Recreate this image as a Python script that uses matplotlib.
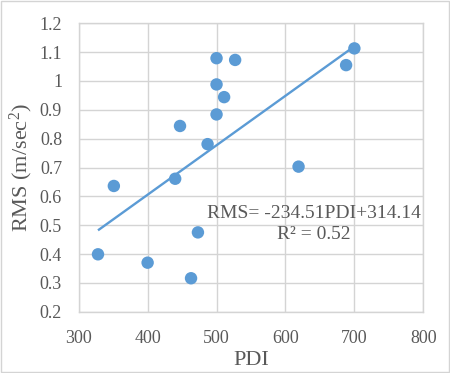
import matplotlib
matplotlib.use("Agg")
import matplotlib.pyplot as plt
import numpy as np

pdi = [328, 351, 400, 440, 447, 463, 473, 487, 500, 500, 500, 511, 527, 619, 688, 700]
rms = [0.399, 0.636, 0.370, 0.661, 0.844, 0.316, 0.475, 0.781, 0.884, 0.988, 1.079, 0.944, 1.073, 0.703, 1.055, 1.113]
xticks = [300, 400, 500, 600, 700, 800]
yticks = [0.2, 0.3, 0.4, 0.5, 0.6, 0.7, 0.8, 0.9, 1.0, 1.1, 1.2]
ytick_labels = ["0.2", "0.3", "0.4", "0.5", "0.6", "0.7", "0.8", "0.9", "1", "1.1", "1.2"]
eq_text = "RMS= -234.51PDI+314.14"
r2_text = "R² = 0.52"

plt.rcParams['font.family'] = ['Liberation Serif', 'DejaVu Serif']
plt.rcParams['mathtext.fontset'] = 'custom'
plt.rcParams['mathtext.rm'] = 'Liberation Serif'
plt.rcParams['mathtext.it'] = 'Liberation Serif:italic'
plt.rcParams['mathtext.bf'] = 'Liberation Serif:bold'
grey = "#595959"
blue = "#5B9BD5"
gridc = "#D4D4D4"

fig = plt.figure(figsize=(4.5, 3.73), dpi=100)
fig.patch.set_facecolor("white")
ax = fig.add_axes([78.7/450, 1 - 311.7/373, (423.3-78.7)/450, (311.7-23.3)/373])

x = np.array(pdi, dtype=float)
y = np.array(rms, dtype=float)
slope, intercept = np.polyfit(x, y, 1)
xl = np.array([x.min(), x.max()])
ax.plot(xl, slope * xl + intercept, color=blue, lw=1.7, zorder=2, solid_capstyle='butt')
ax.scatter(x, y, s=80, color=blue, zorder=3, edgecolors='none')

ax.set_xlim(300, 800)
ax.set_ylim(0.2, 1.2)
ax.set_xticks(xticks)
ax.set_yticks(yticks)
ax.set_yticklabels(ytick_labels)
ax.grid(True, color=gridc, lw=1.0, zorder=0)
ax.set_axisbelow(True)
for s in ax.spines.values():
    s.set_color(gridc)
    s.set_linewidth(1.0)
ax.tick_params(length=0, labelsize=13, labelcolor=grey)
ax.tick_params(axis='y', pad=12)
ax.tick_params(axis='x', pad=13)
ax.set_xlabel("PDI", fontsize=16, color=grey, labelpad=3)
ax.set_ylabel("RMS (m/sec$^{2}$)", fontsize=16, color=grey, labelpad=3)

ax.text(641, 0.542, eq_text, fontsize=14, color=grey, ha='center', va='center')
ax.text(641, 0.466, r2_text, fontsize=14, color=grey, ha='center', va='center')

border = plt.Rectangle((0.002, 0.002), 0.996, 0.995, transform=fig.transFigure,
                       fill=False, edgecolor=gridc, lw=1.0)
fig.patches.append(border)

fig.savefig("out.png", dpi=100, facecolor="white")
